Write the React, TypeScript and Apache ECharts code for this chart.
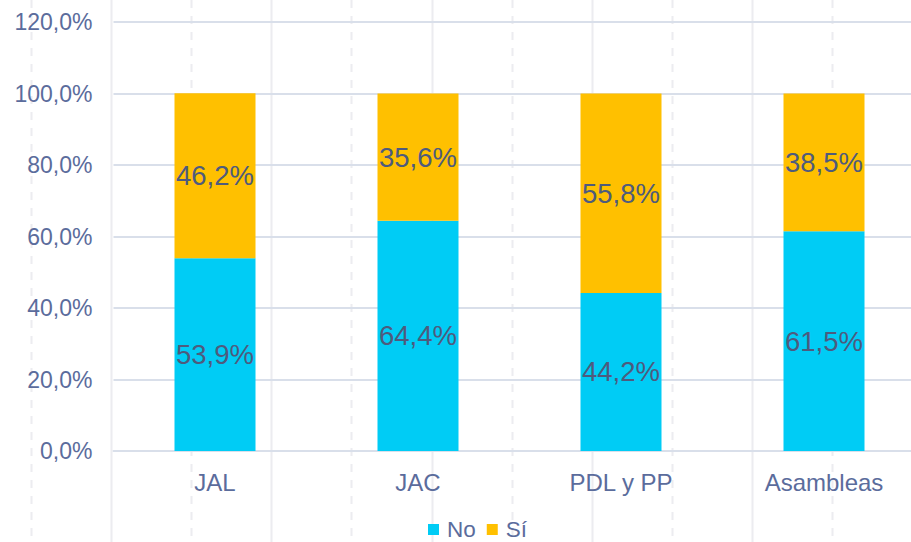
import React, { useEffect, useRef } from "react";
import * as echarts from "echarts";

const categories = ["JAL", "JAC", "PDL y PP", "Asambleas"];
const noValues = [53.9, 64.4, 44.2, 61.5];
const siValues = [46.2, 35.6, 55.8, 38.5];
const seriesNames = ["No", "Sí"];
const yTicks = { min: 0, max: 120, interval: 20 };

const FONT = "'Liberation Sans', Arial, sans-serif";
const AXIS_COLOR = "#5b6c9c";
const LABEL_COLOR = "#4e5b7d";
const GRID_COLOR = "#d9dfea";
const CYAN = "#00CCF5";
const GOLD = "#FFC000";

const fmt = (v: number) => v.toFixed(1).replace(".", ",") + "%";

function backgroundLines() {
  const els: any[] = [];
  for (let i = 0; i < 12; i++) {
    const x = Math.round(31 + 80.1 * i) + 0.5;
    els.push({
      type: "line",
      z: -10,
      silent: true,
      shape: { x1: x, y1: 0, x2: x, y2: 542 },
      style: {
        stroke: "#ececf0",
        lineWidth: 2,
        lineDash: i % 2 === 0 ? [8, 8] : null,
      },
    });
  }
  return els;
}

export default function App() {
  const ref = useRef<HTMLDivElement>(null);
  useEffect(() => {
    if (!ref.current) return;
    const chart = echarts.init(ref.current, undefined, { renderer: "svg" });
    const labelCfg = {
      show: true,
      position: "inside",
      color: LABEL_COLOR,
      fontSize: 27.5,
      fontFamily: FONT,
      formatter: (p: any) => fmt(p.value),
    };
    chart.setOption({
      animation: false,
      backgroundColor: "#ffffff",
      textStyle: { fontFamily: FONT },
      graphic: backgroundLines(),
      legend: {
        data: seriesNames,
        top: 518,
        left: 428,
        padding: 0,
        itemWidth: 11,
        itemHeight: 11,
        itemGap: 11,
        icon: "rect",
        textStyle: {
          color: AXIS_COLOR,
          fontSize: 22.5,
          lineHeight: 22,
          fontFamily: FONT,
          padding: [0, 0, 0, 3],
        },
      },
      grid: {
        left: 113.5,
        width: 812,
        top: 22,
        bottom: 91,
        containLabel: false,
        outerBoundsMode: "none",
      },
      xAxis: {
        type: "category",
        data: categories,
        axisLine: { show: true, lineStyle: { color: GRID_COLOR, width: 2 } },
        axisTick: { show: false },
        axisLabel: { color: AXIS_COLOR, fontSize: 24, fontFamily: FONT, margin: 19 },
        splitLine: { show: false },
      },
      yAxis: {
        type: "value",
        min: yTicks.min,
        max: yTicks.max,
        interval: yTicks.interval,
        axisLine: { show: false },
        axisTick: { show: false },
        axisLabel: { color: AXIS_COLOR, fontSize: 23, fontFamily: FONT, margin: 21, formatter: fmt },
        splitLine: { lineStyle: { color: GRID_COLOR, width: 2 } },
      },
      series: [
        {
          name: seriesNames[0],
          type: "bar",
          stack: "total",
          data: noValues,
          barWidth: 81,
          itemStyle: { color: CYAN },
          label: labelCfg,
        },
        {
          name: seriesNames[1],
          type: "bar",
          stack: "total",
          data: siValues,
          barWidth: 81,
          itemStyle: { color: GOLD },
          label: labelCfg,
        },
      ],
    });
    return () => chart.dispose();
  }, []);
  return (
    <div
      ref={ref}
      style={{ position: "fixed", left: 0, top: 0, width: 911, height: 542 }}
    />
  );
}
